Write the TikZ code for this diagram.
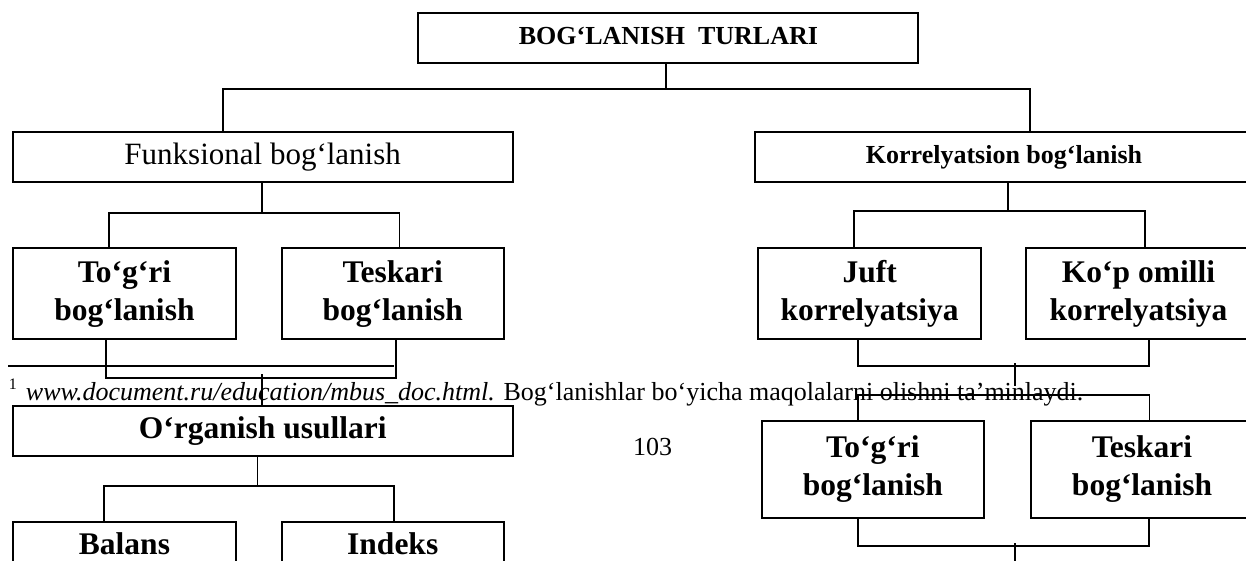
\documentclass[tikz,border=0pt]{standalone}
\usepackage{fontspec}
\setmainfont{Liberation Serif}
\begin{document}
\begin{tikzpicture}[x=1pt,y=-1pt,
  every node/.style={inner sep=0pt,outer sep=0pt},
  box/.style={draw,line width=2pt,anchor=north west,align=center},
  wide/.style={box,minimum width=500pt,minimum height=50pt},
  pair/.style={box,minimum width=223pt,minimum height=91pt,
    font=\fontsize{31.5}{38}\selectfont\bfseries},
  link/.style={line width=1.8pt},
]
\clip (0,0) rectangle (1246,560);
\fill[white] (0,0) rectangle (1246,560);

% ---------- boxes ----------
\node[wide,font=\fontsize{26}{30}\selectfont\bfseries] (top) at (418.4,12.7) {\raisebox{3pt}{BOG‘LANISH\ \ TURLARI}};
\node[wide,minimum height=50.3pt,font=\fontsize{31}{36}\selectfont] (fun) at (12.7,131.7) {Funksional bog‘lanish};
\node[wide,minimum width=498pt,minimum height=50.3pt,font=\fontsize{26}{30}\selectfont\bfseries] (kor) at (755,131.7) {\raisebox{2.5pt}{Korrelyatsion bog‘lanish}};

\node[pair] (togL) at (13,248.3) {To‘g‘ri\\bog‘lanish};
\node[pair,minimum width=222.5pt] (tesL) at (281.5,248.3) {Teskari\\bog‘lanish};
\node[pair,minimum width=223.3pt] (juft) at (758,248.3) {Juft\\korrelyatsiya};
\node[pair,minimum width=225pt] (kop) at (1026,248.3) {Ko‘p omilli\\korrelyatsiya};

\node[wide,minimum height=49.7pt,font=\fontsize{31.5}{36}\selectfont\bfseries] (org) at (12.7,406) {O‘rganish usullari};

\node[pair,minimum width=222.3pt,minimum height=97pt] (togR) at (761.7,421) {To‘g‘ri\\bog‘lanish};
\node[pair,minimum width=222pt,minimum height=97pt] (tesR) at (1031,421) {Teskari\\bog‘lanish};

\node[pair] (bal) at (13,522.3) {Balans\\\strut};
\node[pair,minimum width=222.5pt] (ind) at (281.5,522.3) {Indeks\\\strut};

% ---------- footnote and page number ----------
\coordinate (r1) at (8,366);
\coordinate (r2) at (393.5,366);
\draw[line width=1.6pt] (r1) -- (r2);
\node[anchor=base west,font=\fontsize{26}{30}\selectfont] (fn) at (9,400)
  {\raisebox{11pt}{\fontsize{16}{16}\selectfont 1}\hspace{9pt}\textit{www.document.ru/education/mbus\_doc.html.} Bog‘lanishlar bo‘yicha maqolalarni olishni ta’minlaydi.};
\node[anchor=base,font=\fontsize{26}{30}\selectfont] (pg) at (652.5,455) {103};

% ---------- connectors: root ----------
\coordinate (t1) at (665.9,89.3);
\coordinate (hL) at (222.6,89.3);
\coordinate (hR) at (1030,89.3);
\draw[link] (t1 |- top.south) -- (t1);
\draw[link] (hL |- fun.north) -- (hL) -- (hR) -- (hR |- kor.north);

% ---------- connectors: functional branch ----------
\coordinate (f1) at (261.8,212.7);
\coordinate (fa) at (108.7,212.7);
\coordinate (fb) at (399.5,212.7);
\draw[link] (f1 |- fun.south) -- (f1);
\draw[link] (fa |- togL.north) -- (fa) -- (fb) -- (fb |- tesL.north);

\coordinate (ga) at (105.6,377.7);
\coordinate (gb) at (396,377.7);
\coordinate (gm) at (262.2,374.3);
\draw[link] (ga |- togL.south) -- (ga) -- (gb) -- (gb |- tesL.south);
\draw[link] (gm) -- (gm |- org.north);

\coordinate (o1) at (257.4,485.7);
\coordinate (oa) at (103.6,485.7);
\coordinate (ob) at (394,485.7);
\draw[link] (o1 |- org.south) -- (o1);
\draw[link] (oa |- bal.north) -- (oa) -- (ob) -- (ob |- ind.north);

% ---------- connectors: correlation branch ----------
\coordinate (k1) at (1007.6,211);
\coordinate (ka) at (854.3,211);
\coordinate (kb) at (1145.2,211);
\draw[link] (k1 |- kor.south) -- (k1);
\draw[link] (ka |- juft.north) -- (ka) -- (kb) -- (kb |- kop.north);

\coordinate (ja) at (858.3,365.7);
\coordinate (jb) at (1149.3,365.7);
\coordinate (jm1) at (1014.8,363.3);
\coordinate (jm2) at (1014.8,386);
\draw[link] (ja |- juft.south) -- (ja) -- (jb) -- (jb |- kop.south);
\draw[link] (jm1) -- (jm2);

\coordinate (qa) at (858.3,395.3);
\coordinate (qb) at (1149.5,395.3);
\draw[link] (qa |- togR.north) -- (qa) -- (qb) -- (qb |- tesR.north);

\coordinate (ra) at (858.3,545.7);
\coordinate (rb) at (1149.3,545.7);
\coordinate (rm1) at (1015,543.3);
\coordinate (rm2) at (1015,570);
\draw[link] (ra |- togR.south) -- (ra) -- (rb) -- (rb |- tesR.south);
\draw[link] (rm1) -- (rm2);
\end{tikzpicture}
\end{document}
